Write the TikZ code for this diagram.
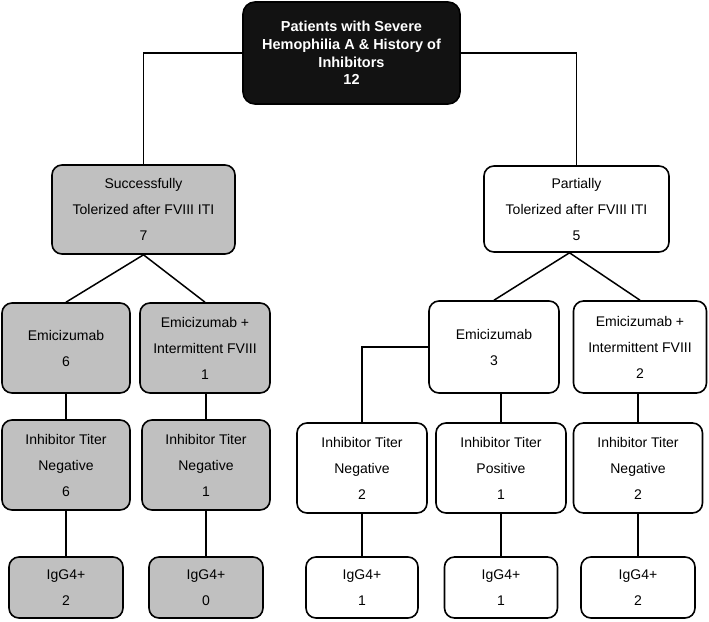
\documentclass[tikz,border=0pt]{standalone}
\usepackage{fontspec}
\setmainfont{Liberation Sans}
\definecolor{tolgrey}{HTML}{C0C0C0}
\definecolor{topblack}{HTML}{121212}
\begin{document}
\begin{tikzpicture}[x=1pt, y=-1pt,
        box/.style={draw, rounded corners=10pt, line width=1.6pt, align=center,
            inner sep=0pt, font=\fontsize{14}{26}\selectfont},
        greybox/.style={box, fill=tolgrey},
        whitebox/.style={box, fill=white},
        link/.style={line width=1.5pt}]
            \useasboundingbox (0,0) rectangle (709,621);
            \draw (351.5,53) node[box, fill=topblack, text=white, minimum width=217, minimum height=102,
                font=\fontsize{14.5}{17.7}\selectfont\bfseries, rounded corners=12pt] (top)
                {Patients with Severe\\Hemophilia A \& History of\\Inhibitors\\12};
            \draw (143.5,209.5) node[greybox, minimum width=183, minimum height=89] (succ)
                {Successfully\\Tolerized after FVIII ITI\\7};
            \draw (576.5,209) node[whitebox, minimum width=185, minimum height=86] (part)
                {Partially\\Tolerized after FVIII ITI\\5};

            \draw (66,348) node[greybox, minimum width=128, minimum height=90] (emiS) {Emicizumab\\6};
            \draw (205,348) node[greybox, minimum width=130, minimum height=90] (emiIS)
                {Emicizumab +\\Intermittent FVIII\\1};
            \draw (494,347) node[whitebox, minimum width=130, minimum height=92] (emiP) {Emicizumab\\3};
            \draw (640,347) node[whitebox, minimum width=133, minimum height=92] (emiIP)
                {Emicizumab +\\Intermittent FVIII\\2};

            \draw (66,465) node[greybox, minimum width=128, minimum height=90] (inhS1)
                {Inhibitor Titer\\Negative\\6};
            \draw (206,465) node[greybox, minimum width=128, minimum height=90] (inhS2)
                {Inhibitor Titer\\Negative\\1};
            \draw (362,468) node[whitebox, minimum width=130, minimum height=90] (inhP1)
                {Inhibitor Titer\\Negative\\2};
            \draw (501,468) node[whitebox, minimum width=130, minimum height=90] (inhP2)
                {Inhibitor Titer\\Positive\\1};
            \draw (638,468) node[whitebox, minimum width=129, minimum height=90] (inhP3)
                {Inhibitor Titer\\Negative\\2};

            \draw (66,587.5) node[greybox, minimum width=114, minimum height=61] (igS1) {IgG4+\\2};
            \draw (206,587.5) node[greybox, minimum width=114, minimum height=61] (igS2) {IgG4+\\0};
            \draw (362,587.5) node[whitebox, minimum width=112, minimum height=61] (igP1) {IgG4+\\1};
            \draw (501,587.5) node[whitebox, minimum width=113, minimum height=61] (igP2) {IgG4+\\1};
            \draw (638,587.5) node[whitebox, minimum width=114, minimum height=61] (igP3) {IgG4+\\2};

            \draw[link] (top.west) -| (succ.north);
            \draw[link] (top.east) -| (part.north);
            \draw[link] (succ.south) -- (emiS.north);
            \draw[link] (succ.south) -- (emiIS.north);
            \draw[link] ([xshift=-7]part.south) -- (emiP.north);
            \draw[link] ([xshift=-7]part.south) -- (emiIP.north);
            \draw[link] (emiS) -- (inhS1);
            \draw[link] (emiIS.south -| inhS2.north) -- (inhS2.north);
            \draw[link] (emiP.west) -| (inhP1.north);
            \draw[link] (emiP.south -| inhP2.north) -- (inhP2.north);
            \draw[link] (emiIP.south -| inhP3.north) -- (inhP3.north);
            \draw[link] (inhS1) -- (igS1);
            \draw[link] (inhS2) -- (igS2);
            \draw[link] (inhP1) -- (igP1);
            \draw[link] (inhP2) -- (igP2);
            \draw[link] (inhP3) -- (igP3);
        \end{tikzpicture}
\end{document}
